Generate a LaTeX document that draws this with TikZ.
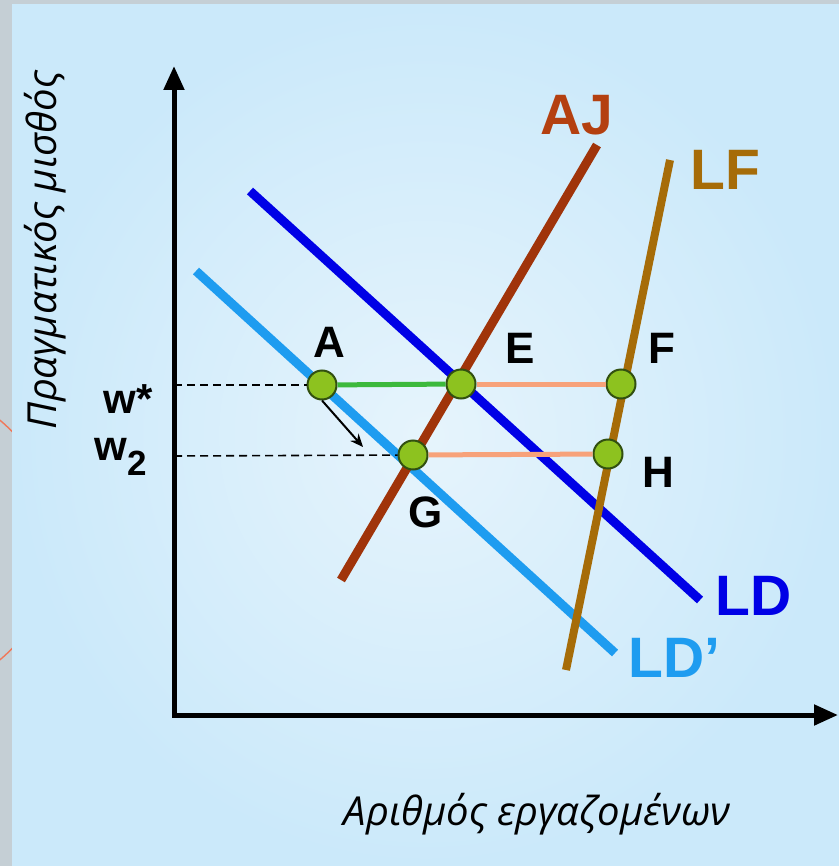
\documentclass[tikz,border=0pt]{standalone}
\usepackage{fontspec}
\setmainfont{Liberation Sans}
\newfontfamily\axisfont{Open Sans}
\usetikzlibrary{arrows.meta}

\definecolor{framegray}{RGB}{197,207,213}
\definecolor{panelout}{RGB}{203,233,250}
\definecolor{panelin}{RGB}{230,244,252}
\definecolor{ldblue}{RGB}{0,0,230}
\definecolor{ldlight}{RGB}{30,156,240}
\definecolor{ajred}{RGB}{160,52,10}
\definecolor{ajtext}{RGB}{180,64,16}
\definecolor{lfbrown}{RGB}{166,108,8}
\definecolor{dotfill}{RGB}{141,194,31}
\definecolor{dotline}{RGB}{50,80,16}
\definecolor{gapgreen}{RGB}{60,185,60}
\definecolor{gaporange}{RGB}{247,162,122}
\definecolor{stamp}{RGB}{240,120,90}

\begin{document}
\begin{tikzpicture}[x=0.5pt, y=-0.5pt,
    axis/.style={line width=2.5pt, line join=miter,
        {Triangle[width=10pt,length=12pt]}-{Triangle[width=10pt,length=12pt]}},
    curve/.style={line width=4.5pt},
    dot/.style={circle, draw=dotline, fill=dotfill, line width=1pt, minimum size=14.5pt, inner sep=0pt},
    ptlabel/.style={font=\fontsize{22}{26}\selectfont\bfseries, inner sep=0pt},
    curvelabel/.style={font=\fontsize{28.5}{32}\selectfont\bfseries, inner sep=0pt},
    wlabel/.style={font=\fontsize{21}{24}\selectfont\bfseries, inner sep=0pt},
    axislabel/.style={font=\axisfont\itshape\fontsize{20}{24}\selectfont, inner sep=0pt},
    guide/.style={line width=0.8pt, dash pattern=on 4pt off 2.5pt},
    gap/.style={line width=2.5pt},
    arrow/.style={-{Stealth[length=6.5pt,width=5.5pt]}, line width=1pt}
]
    \useasboundingbox (0,0) rectangle (839,866);
    % frame and panel
    \fill[framegray] (0,0) rectangle (839,866);
    \begin{scope}
        \clip (0,0) rectangle (12,866);
        \draw[stamp, line width=0.7pt] (-100,540) circle[radius=78pt];
    \end{scope}
    \shade[inner color=panelin, outer color=panelout] (12,5) rectangle (839,866);

    % axes
    \coordinate (O) at (174,715);
    \coordinate (ytop) at (174,66);
    \coordinate (xend) at (838,715);
    \draw[axis] (ytop) -- (O) -- (xend);
    \node[axislabel, rotate=90, anchor=base] (ytitle) at (56,250) {Πραγματικός μισθός};
    \node[axislabel, anchor=base] (xtitle) at (537,825) {Αριθμός εργαζομένων};

    % curves
    \coordinate (LDa) at (250,191);  \coordinate (LDb) at (700,600);
    \coordinate (LDpa) at (196,271); \coordinate (LDpb) at (615,653);
    \coordinate (AJa) at (341,580);  \coordinate (AJb) at (597,145);
    \coordinate (LFa) at (566,670);  \coordinate (LFb) at (670,160);
    \draw[curve, ldlight] (LDpa) -- (LDpb);
    \draw[curve, ldblue] (LDa) -- (LDb);
    \draw[curve, ajred] (AJa) -- (AJb);
    \draw[curve, lfbrown, line width=4pt] (LFa) -- (LFb);
    \node[curvelabel, ajtext, anchor=base west] (AJ) at (540,135) {AJ};
    \node[curvelabel, lfbrown, anchor=base west] (LF) at (690,190) {LF};
    \node[curvelabel, ldblue, anchor=base west] (LD) at (715,615) {LD};
    \node[curvelabel, ldlight, anchor=base west] (LDp) at (628,677) {LD’};

    % points
    \node[dot] (A) at (322,385) {};
    \node[dot] (E) at (461,384) {};
    \node[dot] (F) at (621,384) {};
    \node[dot] (G) at (413,455) {};
    \node[dot] (H) at (608,454) {};
    \node[ptlabel, anchor=base west] (labA) at (313,357) {A};
    \node[ptlabel, anchor=base west] (labE) at (505,363) {E};
    \node[ptlabel, anchor=base west] (labF) at (648,363) {F};
    \node[ptlabel, anchor=base west] (labG) at (408,527) {G};
    \node[ptlabel, anchor=base west] (labH) at (642,487) {H};

    % wage levels
    \coordinate (wstar) at (174,385);
    \coordinate (wtwo) at (174,456);
    \draw[guide] (wstar) -- (A);
    \draw[guide] (wtwo) -- (G);
    \node[wlabel, anchor=base east] (wstarlbl) at (153,413) {w*};
    \node[wlabel, anchor=base east] (wtwolbl) at (147,460) {w\raisebox{-7.5pt}{\fontsize{17.5}{18}\selectfont 2}};

    \draw[gap, gapgreen] (A) -- (E);
    \draw[gap, gaporange] (E) -- (F);
    \draw[gap, gaporange] (G) -- (H);

    \coordinate (shift) at (363,447);
    \draw[arrow] (A.south) -- (shift);
\end{tikzpicture}
\end{document}
